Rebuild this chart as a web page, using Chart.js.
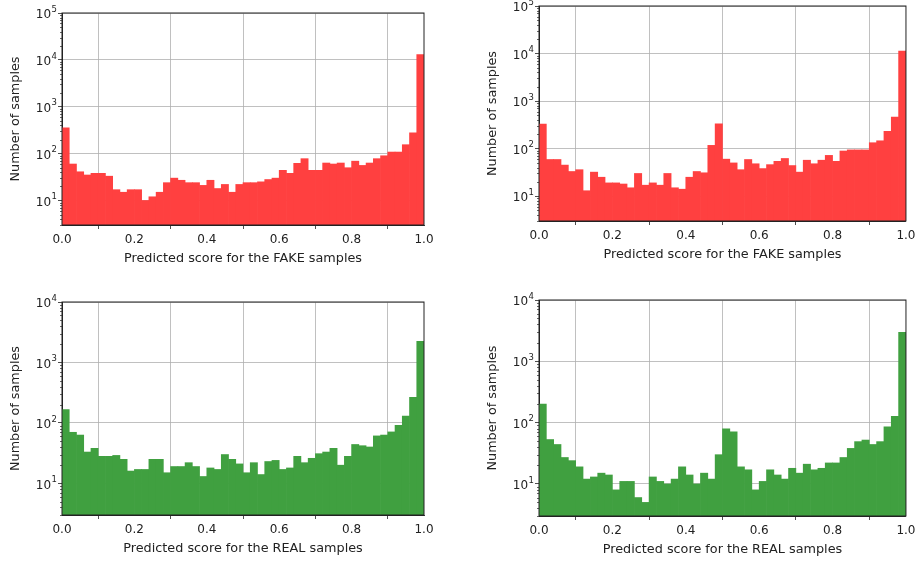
<!DOCTYPE html>
<html>
<head>
<meta charset="utf-8">
<script src="https://cdn.jsdelivr.net/npm/chart.js@4.4.1/dist/chart.umd.min.js"></script>
<style>
  html, body { margin: 0; padding: 0; background: #fff; width: 919px; height: 561px; overflow: hidden; }
  canvas { position: absolute; }
</style>
</head>
<body>
<canvas id="fakeLeft"></canvas>
<canvas id="fakeRight"></canvas>
<canvas id="realLeft"></canvas>
<canvas id="realRight"></canvas>
<script>
// Histogram counts, 50 bins over [0, 1]
const fakeCountsLeft = [355, 60, 41, 35, 38, 38, 33, 17, 15, 17,
  17, 10, 12, 15, 24, 30, 27, 24, 24, 21,
  27, 18, 22, 15, 22, 24, 24, 25, 28, 30,
  44, 38, 62, 78, 44, 44, 63, 60, 63, 50,
  69, 56, 63, 78, 90, 108, 108, 155, 276, 12900];

const fakeCountsRight = [330, 59, 59, 45, 33, 36, 13, 32, 25, 19,
  19, 18, 15, 30, 17, 19, 17, 30, 15, 14,
  25, 33, 31, 117, 333, 60, 50, 36, 59, 48,
  38, 46, 54, 62, 44, 32, 57, 48, 57, 72,
  54, 89, 94, 94, 94, 133, 146, 232, 458, 11200];

const realCountsLeft = [167, 70, 63, 33, 38, 28, 28, 29, 25, 16,
  17, 17, 25, 25, 15, 19, 19, 22, 19, 13,
  18, 17, 30, 25, 21, 15, 22, 14, 23, 24,
  17, 18, 28, 22, 26, 31, 33, 38, 20, 28,
  44, 42, 40, 61, 63, 71, 91, 130, 264, 2240];

const realCountsRight = [200, 53, 44, 27, 24, 19, 12, 13, 15, 14,
  8, 11, 11, 6, 5, 13, 11, 10, 12, 19,
  14, 10, 15, 12, 30, 79, 71, 19, 17, 8,
  11, 17, 14, 12, 18, 15, 21, 17, 18, 22,
  22, 27, 38, 49, 52, 44, 49, 85, 127, 2960];

const xTickValues = [0, 0.2, 0.4, 0.6, 0.8, 1.0];
const yTickValues = [10, 100, 1000, 10000, 100000];
const yTitle = 'Number of samples';
const fakeTitle = 'Predicted score for the FAKE samples';
const realTitle = 'Predicted score for the REAL samples';

const binCount = 50;
const fontFamily = '"DejaVu Sans", sans-serif';

Chart.defaults.font.family = fontFamily;
Chart.defaults.color = '#222';

// Function to draw the box, the minor log ticks and the 10^n labels
const frameAndLogLabels = {
  id: 'frameAndLogLabels',
  afterDraw(chart) {
    const {ctx, chartArea: a} = chart;
    const y = chart.scales.y;
    ctx.save();
    ctx.strokeStyle = '#000';
    ctx.lineWidth = 0.6;
    ctx.beginPath();
    for (let k = 0; k < 6; k++) {
      for (let m = 2; m < 10; m++) {
        const v = m * Math.pow(10, k);
        if (v < y.min || v > y.max) continue;
        const py = Math.round(y.getPixelForValue(v)) + 0.5;
        ctx.moveTo(a.left - 2, py);
        ctx.lineTo(a.left, py);
      }
    }
    ctx.stroke();
    ctx.lineWidth = 1;
    ctx.strokeStyle = '#222';
    ctx.strokeRect(a.left, a.top, a.right - a.left, a.bottom - a.top);

    // labels like 10 with a raised exponent
    ctx.fillStyle = '#222';
    ctx.textAlign = 'right';
    ctx.textBaseline = 'middle';
    y.ticks.forEach(t => {
      const py = y.getPixelForValue(t.value);
      const exp = String(Math.round(Math.log10(t.value)));
      const xr = a.left - 5;
      ctx.font = '8.5px ' + fontFamily;
      const expW = ctx.measureText(exp).width;
      ctx.fillText(exp, xr, py - 3.5);
      ctx.font = '12px ' + fontFamily;
      ctx.fillText('10', xr - expW - 0.5, py + 2);
    });
    ctx.restore();
  }
};

// Function to build one histogram panel
function makePanel(id, box, area, counts, color, xTitle, yMax) {
  const canvas = document.getElementById(id);
  canvas.width = box.w;
  canvas.height = box.h;
  canvas.style.left = box.x + 'px';
  canvas.style.top = box.y + 'px';

  const yWidth = area.l - box.x;
  const xHeight = box.y + box.h - area.b;
  const titleLine = 12.8 * 1.2;
  const titlePad = xHeight - 34 - titleLine / 2;

  const points = counts.map((c, i) => ({ x: (i + 0.5) / binCount, y: c }));

  return new Chart(canvas, {
    type: 'bar',
    data: {
      datasets: [{
        data: points,
        backgroundColor: color,
        borderWidth: 0,
        barPercentage: 1,
        categoryPercentage: 1
      }]
    },
    options: {
      responsive: false,
      animation: false,
      layout: { padding: { left: 0, top: area.t - box.y, right: box.x + box.w - area.r, bottom: 0 } },
      plugins: { legend: { display: false }, tooltip: { enabled: false } },
      scales: {
        x: {
          type: 'linear',
          min: 0,
          max: 1,
          offset: false,
          z: 1,
          afterBuildTicks: s => { s.ticks = xTickValues.map(v => ({ value: v })); },
          afterFit: s => { s.height = xHeight; },
          ticks: { callback: v => v.toFixed(1), font: { size: 12 }, padding: 3.5, maxRotation: 0, autoSkip: false },
          grid: { color: '#b0b0b0', lineWidth: 0.8, tickLength: 4, tickColor: '#222', tickWidth: 0.8 },
          border: { color: '#222', width: 1 },
          title: { display: true, text: xTitle, font: { size: 12.8 }, padding: { top: 0, bottom: titlePad } }
        },
        y: {
          type: 'logarithmic',
          min: 3,
          max: yMax,
          z: 1,
          afterBuildTicks: s => { s.ticks = yTickValues.filter(v => v <= yMax).map(v => ({ value: v })); },
          afterFit: s => { s.width = yWidth; },
          ticks: { display: false },
          grid: { color: '#b0b0b0', lineWidth: 0.8, tickLength: 4, tickColor: '#222', tickWidth: 0.8 },
          border: { color: '#222', width: 1 },
          title: { display: true, text: yTitle, font: { size: 12.8 }, padding: { top: 8, bottom: 0 } }
        }
      }
    },
    plugins: [frameAndLogLabels]
  });
}

const red = 'rgb(255, 64, 64)';
const green = 'rgb(64, 160, 64)';

makePanel('fakeLeft', { x: 0, y: -10, w: 460, h: 290 }, { l: 62, t: 13, r: 424, b: 225 },
  fakeCountsLeft, red, fakeTitle, 100000);
makePanel('fakeRight', { x: 477, y: -10, w: 442, h: 290 }, { l: 539, t: 6, r: 907, b: 221 },
  fakeCountsRight, red, fakeTitle, 100000);
makePanel('realLeft', { x: 0, y: 280, w: 460, h: 281 }, { l: 62, t: 302, r: 424, b: 515 },
  realCountsLeft, green, realTitle, 10000);
makePanel('realRight', { x: 477, y: 280, w: 442, h: 281 }, { l: 539, t: 300, r: 907, b: 516 },
  realCountsRight, green, realTitle, 10000);
</script>
</body>
</html>
